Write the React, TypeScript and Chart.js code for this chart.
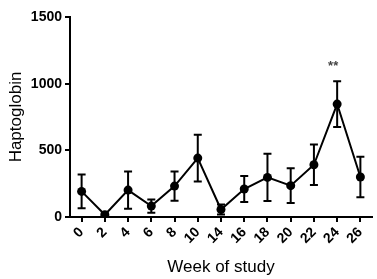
import React, { useEffect, useRef } from "react";
import { Chart, registerables } from "chart.js";

Chart.register(...registerables);

const weeks = ["0", "2", "4", "6", "8", "10", "14", "16", "18", "20", "22", "24", "26"];
const haptoglobinMean = [192, 17, 202, 82, 232, 442, 56, 210, 297, 235, 392, 847, 300];
const haptoglobinSem = [127, 12, 140, 50, 110, 175, 37, 97, 177, 130, 152, 172, 152];
const significance = ["", "", "", "", "", "", "", "", "", "", "", "**", ""];
const yTicks = [0, 500, 1000, 1500];

const FONT = "'Liberation Sans', Arial, Helvetica, sans-serif";

const errorBarPlugin = {
  id: "errorBars",
  beforeDatasetsDraw(chart: any) {
    const { ctx, scales } = chart;
    const xs = scales.x;
    const ys = scales.y;
    ctx.save();
    ctx.strokeStyle = "#000";
    ctx.lineWidth = 2;
    haptoglobinMean.forEach((m, i) => {
      const x = xs.getPixelForValue(i);
      const top = ys.getPixelForValue(m + haptoglobinSem[i]);
      const bot = ys.getPixelForValue(Math.max(0, m - haptoglobinSem[i]));
      ctx.beginPath();
      ctx.moveTo(x, top);
      ctx.lineTo(x, bot);
      ctx.moveTo(x - 4, top);
      ctx.lineTo(x + 4, top);
      ctx.moveTo(x - 4, bot);
      ctx.lineTo(x + 4, bot);
      ctx.stroke();
    });
    ctx.restore();
  },
  afterDatasetsDraw(chart: any) {
    const { ctx, scales } = chart;
    ctx.save();
    ctx.fillStyle = "#444";
    ctx.font = `bold 13px ${FONT}`;
    ctx.textAlign = "center";
    ctx.textBaseline = "alphabetic";
    significance.forEach((s, i) => {
      if (!s) return;
      const x = scales.x.getPixelForValue(i) - 4;
      const y = scales.y.getPixelForValue(haptoglobinMean[i] + haptoglobinSem[i]) - 11;
      ctx.fillText(s, x, y);
    });
    ctx.restore();
  },
};

export default function App() {
  const ref = useRef<HTMLCanvasElement | null>(null);
  useEffect(() => {
    if (!ref.current) return;
    Chart.defaults.color = "#000";
    const chart = new Chart(ref.current, {
      type: "line",
      data: {
        labels: weeks,
        datasets: [
          {
            label: "Haptoglobin",
            data: haptoglobinMean,
            borderColor: "#000",
            backgroundColor: "#000",
            borderWidth: 2,
            pointRadius: 4.5,
            pointBackgroundColor: "#000",
            pointBorderColor: "#000",
            pointBorderWidth: 0,
            tension: 0,
          },
        ],
      },
      options: {
        responsive: false,
        animation: false,
        devicePixelRatio: 1,
        layout: { padding: { top: 17, right: 5, left: 0, bottom: 0 } },
        plugins: { legend: { display: false }, tooltip: { enabled: false } },
        scales: {
          x: {
            type: "category",
            offset: true,
            afterFit: (s: any) => {
              s.height = 62;
            },
            grid: {
              display: true,
              drawOnChartArea: false,
              drawTicks: true,
              tickLength: 5,
              color: "#000",
              lineWidth: 2,
              offset: false,
            },
            border: { display: true, color: "#000", width: 2 },
            ticks: {
              minRotation: 45,
              maxRotation: 45,
              autoSkip: false,
              padding: 2,
              color: "#000",
              font: { family: FONT, size: 14, weight: "bold" },
            },
            title: {
              display: true,
              text: "Week of study",
              color: "#000",
              font: { family: FONT, size: 17 },
              padding: { top: 0, bottom: 1 },
            },
          },
          y: {
            min: 0,
            max: 1500,
            afterFit: (s: any) => {
              s.width = 70;
            },
            afterBuildTicks: (s: any) => {
              s.ticks = yTicks.map((v) => ({ value: v }));
            },
            grid: {
              display: true,
              drawOnChartArea: false,
              drawTicks: true,
              tickLength: 5,
              color: "#000",
              lineWidth: 2,
            },
            border: { display: true, color: "#000", width: 2 },
            ticks: {
              padding: 3,
              color: "#000",
              font: { family: FONT, size: 14, weight: "bold" },
              callback: (v: any) => String(v),
            },
            title: {
              display: true,
              text: "Haptoglobin",
              color: "#000",
              font: { family: FONT, size: 17 },
              padding: { top: 6, bottom: 0 },
            },
          },
        },
      },
      plugins: [errorBarPlugin],
    });
    return () => chart.destroy();
  }, []);
  return (
    <div style={{ position: "fixed", left: 0, top: 0, width: 377, height: 279, background: "#fff" }}>
      <canvas ref={ref} width={377} height={279} style={{ display: "block" }} />
    </div>
  );
}
